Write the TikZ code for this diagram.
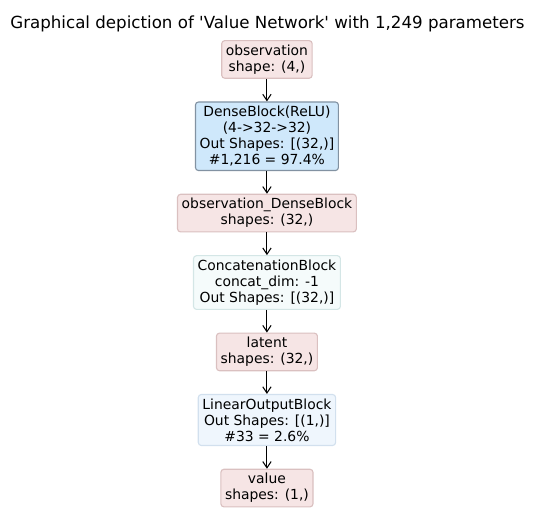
\documentclass[tikz,border=0pt]{standalone}
\usepackage{fontspec}
\setmainfont{DejaVu Sans}
\usetikzlibrary{positioning, arrows.meta}
\definecolor{tensorfill}{RGB}{246,229,229}
\definecolor{tensordraw}{RGB}{218,192,192}
\definecolor{densefill}{RGB}{207,232,251}
\definecolor{densedraw}{RGB}{130,146,162}
\definecolor{concatfill}{RGB}{245,251,251}
\definecolor{concatdraw}{RGB}{212,230,230}
\definecolor{linearfill}{RGB}{239,246,253}
\definecolor{lineardraw}{RGB}{210,224,238}
\tikzstyle{block} = [draw, rectangle, rounded corners=2.2pt, line width=0.8pt, align=center, inner xsep=3pt, inner ysep=2.9pt, font=\fontsize{10}{11.6}\selectfont]
\tikzstyle{tensor} = [block, fill=tensorfill, draw=tensordraw]
\tikzstyle{dense} = [block, fill=densefill, draw=densedraw]
\tikzstyle{concat} = [block, fill=concatfill, draw=concatdraw]
\tikzstyle{linear} = [block, fill=linearfill, draw=lineardraw]

\begin{document}
\begin{tikzpicture}[node distance=16.3pt, >={Straight Barb[length=4.5pt,width=6pt]}]
        \useasboundingbox (0,0) rectangle (385.2pt,-376.56pt);
        % title
        \node [font=\fontsize{12}{14}\selectfont] (title) at (192.6pt,-17.3pt) {Graphical depiction of \textquotesingle Value Network\textquotesingle{} with 1,249 parameters};
        % input
        \node [tensor] (obs) at (192.2pt,-42.8pt) {observation\\shape: (4,)};
        % dense block
        \node [dense, below=of obs] (dense) {DenseBlock(ReLU)\\(4->32->32)\\Out Shapes: [(32,)]\\\#1,216 = 97.4\%};
        \node [tensor, below=of dense] (obsdense) {observation\_DenseBlock\\shapes: (32,)};
        % concatenation
        \node [concat, below=of obsdense] (concat) {ConcatenationBlock\\concat\_dim: -1\\Out Shapes: [(32,)]};
        \node [tensor, below=of concat] (latent) {latent\\shapes: (32,)};
        % output
        \node [linear, below=of latent] (linout) {LinearOutputBlock\\Out Shapes: [(1,)]\\\#33 = 2.6\%};
        \node [tensor, below=of linout] (value) {value\\shapes: (1,)};
        % connections
        \draw [->, line width=0.75pt] (obs) -- (dense);
        \draw [->, line width=0.75pt] (dense) -- (obsdense);
        \draw [->, line width=0.75pt] (obsdense) -- (concat);
        \draw [->, line width=0.75pt] (concat) -- (latent);
        \draw [->, line width=0.75pt] (latent) -- (linout);
        \draw [->, line width=0.75pt] (linout) -- (value);
    \end{tikzpicture}
\end{document}
